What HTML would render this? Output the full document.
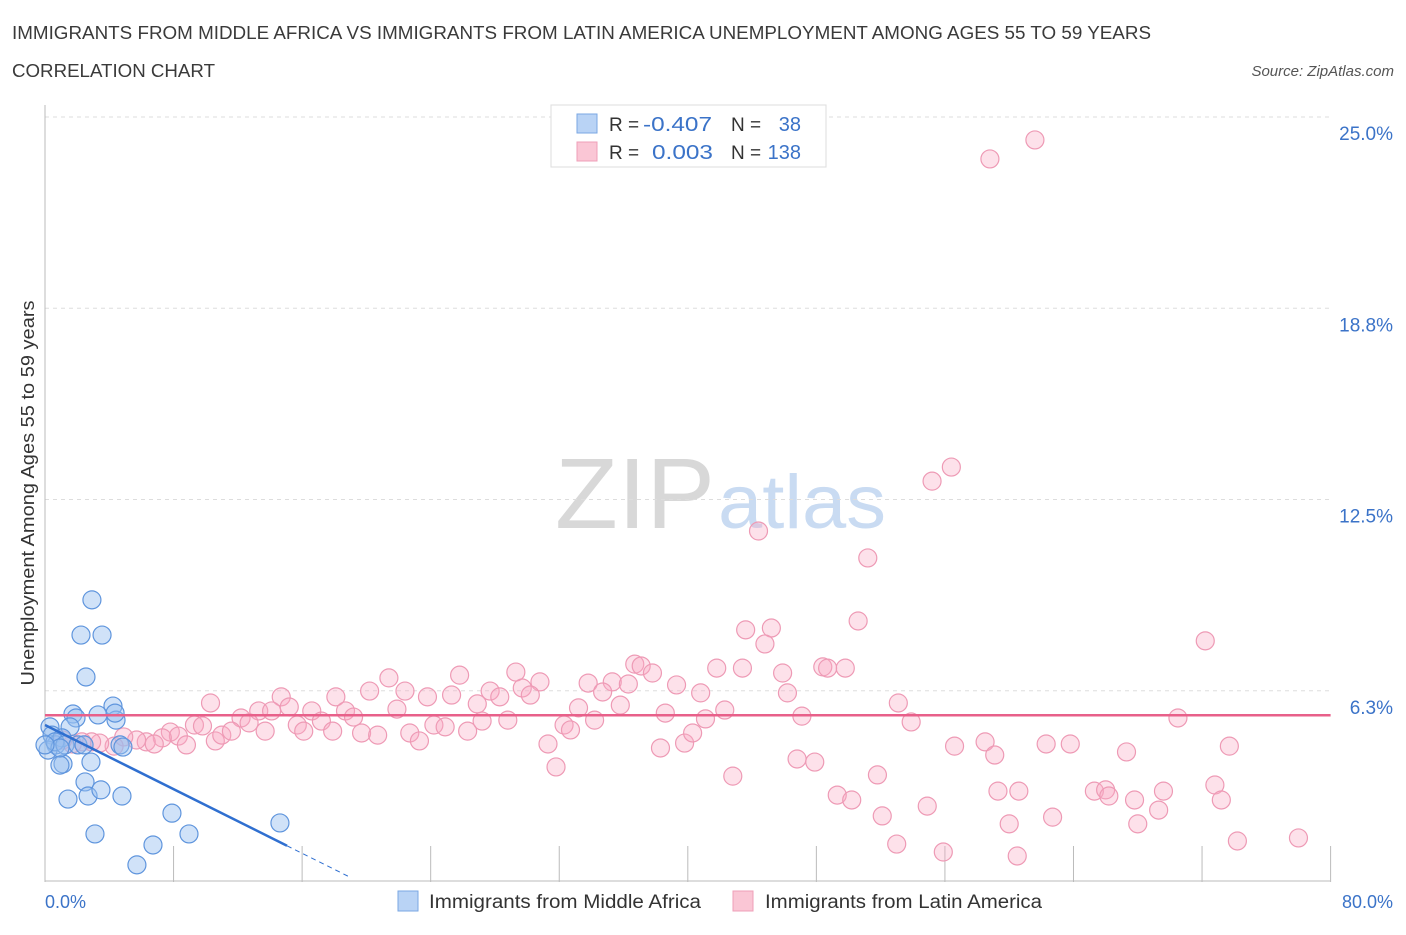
<!DOCTYPE html>
<html><head><meta charset="utf-8"><style>
body{margin:0;background:#fff;font-family:"Liberation Sans",sans-serif;}
svg text{font-family:"Liberation Sans",sans-serif;}
</style></head><body>
<svg id="chart" width="1406" height="930" xmlns="http://www.w3.org/2000/svg">
<text x="12" y="39" font-size="18" fill="#3a3a3a" textLength="1139" lengthAdjust="spacingAndGlyphs">IMMIGRANTS FROM MIDDLE AFRICA VS IMMIGRANTS FROM LATIN AMERICA UNEMPLOYMENT AMONG AGES 55 TO 59 YEARS</text>
<text x="12" y="77" font-size="18" fill="#3a3a3a" textLength="203" lengthAdjust="spacingAndGlyphs">CORRELATION CHART</text>
<text x="1394" y="76" font-size="15" font-style="italic" fill="#555" text-anchor="end">Source: ZipAtlas.com</text>
<g>
<text x="555" y="528" font-size="100" font-family="Liberation Serif" fill="#d8d8d8" textLength="160" lengthAdjust="spacingAndGlyphs">ZIP</text>
<text x="718" y="528" font-size="76" fill="#c9dbf2" textLength="168" lengthAdjust="spacingAndGlyphs">atlas</text>
</g>
<g id="grid"></g>
<g id="axes"></g>
<g id="marks"></g>
<text transform="translate(34,493) rotate(-90)" font-size="18" fill="#333" text-anchor="middle" textLength="385" lengthAdjust="spacingAndGlyphs">Unemployment Among Ages 55 to 59 years</text>
<text x="45" y="908" font-size="18" fill="#3b73c8">0.0%</text>
<text x="1393" y="908" font-size="18" fill="#3b73c8" text-anchor="end">80.0%</text>
<g>
<rect x="551" y="105" width="275" height="62" fill="#fff" stroke="#ddd"/>
<rect x="577" y="114" width="20" height="19" fill="#b9d3f5" stroke="#7aa7e3"/>
<rect x="577" y="142" width="20" height="19" fill="#fac6d5" stroke="#ef9fb8"/>
<text x="609" y="131" font-size="19" fill="#333">R = </text><text x="643" y="131" font-size="20" fill="#3b73c8" textLength="69" lengthAdjust="spacingAndGlyphs">-0.407</text>
<text x="731" y="131" font-size="19" fill="#333">N = </text><text x="801" y="131" font-size="20" fill="#3b73c8" text-anchor="end">38</text>
<text x="609" y="159" font-size="19" fill="#333">R = </text><text x="652" y="159" font-size="20" fill="#3b73c8" textLength="61" lengthAdjust="spacingAndGlyphs">0.003</text>
<text x="731" y="159" font-size="19" fill="#333">N = </text><text x="801" y="159" font-size="20" fill="#3b73c8" text-anchor="end">138</text>
</g>
<g>
<rect x="398" y="891" width="20" height="20" fill="#b9d3f5" stroke="#7aa7e3"/>
<text x="429" y="908" font-size="19" fill="#333" textLength="272" lengthAdjust="spacingAndGlyphs">Immigrants from Middle Africa</text>
<rect x="733" y="891" width="20" height="20" fill="#fac6d5" stroke="#ef9fb8"/>
<text x="765" y="908" font-size="19" fill="#333" textLength="277" lengthAdjust="spacingAndGlyphs">Immigrants from Latin America</text>
</g>
</svg>
<script>
const yTicks=[6.25,12.5,18.75,25];
const yTickLabels=["6.3%","12.5%","18.8%","25.0%"];
const xTicks=[0,8,16,24,32,40,48,56,64,72,80];
const blueX=[2.92,2.24,3.55,2.55,4.23,1.74,1.93,3.30,4.42,4.36,0.31,1.56,0.44,0.68,0.19,1.06,1.12,0.93,2.86,4.67,4.85,2.49,1.43,2.68,3.48,4.79,3.11,7.90,8.96,6.72,5.72,14.62,0.62,1.24,2.05,2.43,0.93,0];
const blueY=[9.22,8.07,8.07,6.70,5.75,5.49,5.36,5.46,5.29,5.52,5.07,5.07,4.80,4.48,4.31,4.71,3.86,3.82,3.92,4.48,4.41,3.27,2.71,2.81,3.01,2.81,1.57,2.25,1.57,1.21,0.56,1.93,4.58,4.48,4.48,4.48,4.38,4.48];
const pinkX=[61.6,58.8,56.4,55.2,44.4,51.2,50.6,43.6,45.2,44.8,72.2,36.7,37.1,37.8,41.8,43.4,48.4,48.7,49.8,45.9,29.3,25.8,21.4,30.8,29.7,35.3,36.3,33.8,39.3,40.8,46.2,22.4,20.2,18.1,14.7,10.3,13.3,15.2,16.6,18.7,19.2,21.9,23.8,25.3,27.7,28.3,26.9,30.2,34.7,35.8,33.2,38.6,41.1,42.3,47.1,53.1,53.9,70.5,9.3,9.8,12.2,12.7,14.1,15.7,17.2,17.9,19.7,20.7,22.7,23.3,24.2,24.9,26.3,27.2,28.8,32.3,32.7,34.2,7.8,8.3,8.8,7.3,6.3,6.8,5.7,4.9,4.3,3.4,2.9,2.3,1.7,1.1,10.6,11.0,11.6,13.7,16.1,31.3,31.8,38.3,39.8,40.3,56.6,58.5,59.1,62.3,63.8,67.3,73.7,46.8,47.9,42.8,51.8,49.3,50.2,52.1,54.9,59.3,60.6,60.0,62.7,65.3,66.0,66.2,67.8,68.0,69.3,69.6,72.8,73.2,53.0,55.9,60.5,74.2,78.0];
const pinkY=[24.25,23.63,13.56,13.10,11.47,10.59,8.53,8.24,8.30,7.78,7.88,7.12,7.06,6.83,6.99,6.99,7.03,6.99,6.99,6.83,6.86,6.76,6.67,6.54,6.34,6.54,6.47,6.50,6.44,6.18,6.18,6.24,6.24,6.05,6.05,5.85,5.59,5.72,5.59,5.59,5.39,5.65,6.05,6.11,6.24,6.05,5.82,6.11,6.21,5.78,5.69,5.52,5.33,5.62,5.42,5.85,5.23,5.36,5.13,5.10,5.36,5.20,5.59,5.13,5.26,4.93,4.87,4.80,4.87,4.61,5.13,5.07,4.93,5.26,5.29,5.13,4.97,5.29,4.90,4.77,4.48,4.71,4.58,4.51,4.64,4.74,4.44,4.54,4.58,4.58,4.51,4.64,4.61,4.80,4.93,4.93,4.93,4.51,3.76,4.38,4.54,4.87,4.44,4.58,4.15,4.51,4.51,4.25,4.44,4.02,3.92,3.46,3.50,2.84,2.68,2.16,2.48,2.97,2.97,1.90,2.12,2.97,3.01,2.81,2.68,1.90,2.35,2.97,3.17,2.68,1.24,0.98,0.85,1.34,1.44];
const blueTrend=[5.13,-0.262,15.06,19.0];
const pinkTrend=[5.45,0,0,80];
const NS="http://www.w3.org/2000/svg";
function xs(v){return 45+v*16.07;}
function ys(v){return 882-v*30.6;}
function mk(tag,attrs,parent){const e=document.createElementNS(NS,tag);for(const k in attrs)e.setAttribute(k,attrs[k]);parent.appendChild(e);return e;}
const grid=document.getElementById('grid'),axes=document.getElementById('axes'),marks=document.getElementById('marks');
yTicks.forEach((t,i)=>{
 const l=mk('line',{x1:45,x2:1330,y1:ys(t),y2:ys(t),stroke:'#ddd','stroke-dasharray':'4,4'},grid);
 
 
 const tx=mk('text',{x:1393,y:ys(t)+23,'font-size':19,fill:'#3b73c8','text-anchor':'end'},axes);
 tx.textContent=yTickLabels[i];
 
 
});
const ya=mk('line',{x1:45,x2:45,y1:105,y2:882,stroke:'#bbb'},axes);


const xa=mk('line',{x1:45,x2:1330,y1:881,y2:881,stroke:'#bbb'},axes);


xTicks.forEach(t=>{
 const l=mk('line',{x1:xs(t),x2:xs(t),y1:846,y2:882,stroke:'#bbb'},axes);
 
 
});
pinkX.forEach((x,i)=>{
 const c=mk('circle',{cx:xs(x),cy:ys(pinkY[i]),r:9,fill:'rgba(248,170,195,0.35)',stroke:'#ee9ab5','stroke-width':1.2},marks);
 
 
});
blueX.forEach((x,i)=>{
 const c=mk('circle',{cx:xs(x),cy:ys(blueY[i]),r:9,fill:'rgba(150,190,240,0.45)',stroke:'#5f95dd','stroke-width':1.2},marks);
 
 
});
const pl=mk('line',{x1:xs(pinkTrend[2]),x2:xs(pinkTrend[3]),y1:ys(pinkTrend[0]+pinkTrend[1]*pinkTrend[2]),y2:ys(pinkTrend[0]+pinkTrend[1]*pinkTrend[3]),stroke:'#e8608a','stroke-width':2.5},marks);


const bl=mk('line',{x1:xs(0),x2:xs(blueTrend[2]),y1:ys(blueTrend[0]),y2:ys(blueTrend[0]+blueTrend[1]*blueTrend[2]),stroke:'#2f6fd0','stroke-width':2.5},marks);


const bd=mk('line',{x1:xs(blueTrend[2]),x2:xs(blueTrend[3]),y1:ys(blueTrend[0]+blueTrend[1]*blueTrend[2]),y2:ys(blueTrend[0]+blueTrend[1]*blueTrend[3]),stroke:'#2f6fd0','stroke-width':1,'stroke-dasharray':'5,4'},marks);


</script>
</body></html>
